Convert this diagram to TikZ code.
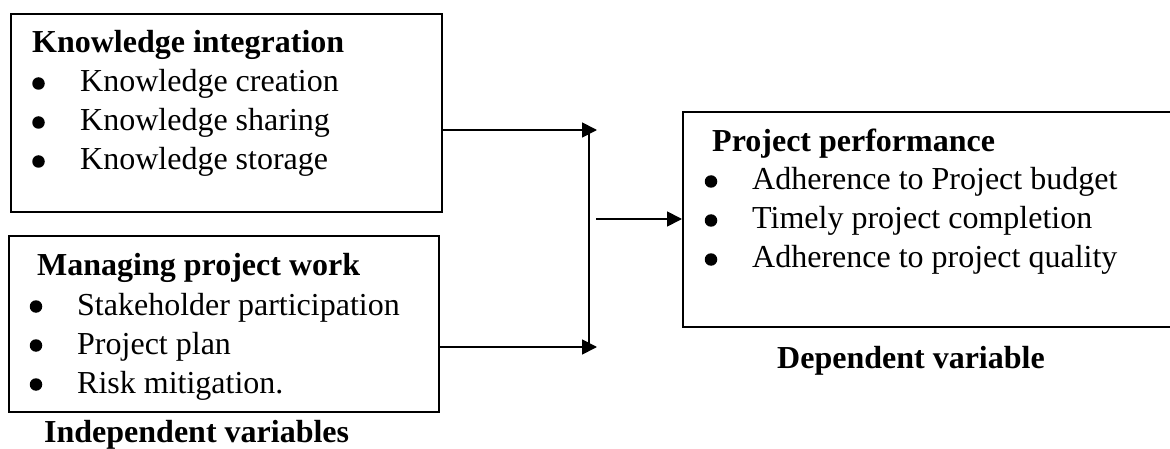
\documentclass[tikz,border=0pt]{standalone}
\usepackage{fontspec}
\setmainfont{Liberation Serif}
\usetikzlibrary{arrows.meta}
\begin{document}
\begin{tikzpicture}[x=1pt,y=-1pt,
  box/.style={draw,line width=1.7pt,inner sep=0pt},
  txt/.style={anchor=base west,inner sep=0pt,font=\fontsize{32}{39}\selectfont},
  ttl/.style={txt,font=\fontsize{32}{39}\selectfont\bfseries},
  bul/.style={circle,fill=black,inner sep=0pt,minimum size=12.5pt},
  conn/.style={line width=1.7pt},
  arr/.style={conn,-{Triangle[length=15pt,width=15pt]}}]
\useasboundingbox (0,0) rectangle (1170,449);
% boxes
\node[box,minimum width=431pt,minimum height=198pt,anchor=north west] (b1) at (10,13) {};
\node[box,minimum width=430pt,minimum height=176pt,anchor=north west] (b2) at (8,235) {};
\node[box,minimum width=500pt,minimum height=215pt,anchor=north west] (b3) at (682,111) {};
% box 1 text
\node[ttl] (t1) at (32,53) {Knowledge integration};
\node[bul] (b1a) at (38.5,83.5) {};
\node[txt] (i1a) at (80,92) {Knowledge creation};
\node[bul] (b1b) at (38.5,122.5) {};
\node[txt] (i1b) at (80,131) {Knowledge sharing};
\node[bul] (b1c) at (38.5,161.5) {};
\node[txt] (i1c) at (80,170) {Knowledge storage};
% box 2 text
\node[ttl] (t2) at (37,275) {Managing project work};
\node[bul] (b2a) at (36,306.5) {};
\node[txt] (i2a) at (77,315) {Stakeholder participation};
\node[bul] (b2b) at (36,345.5) {};
\node[txt] (i2b) at (77,354) {Project plan};
\node[bul] (b2c) at (36,384.5) {};
\node[txt] (i2c) at (77,393) {Risk mitigation.};
% box 3 text
\node[ttl] (t3) at (712,152) {Project performance};
\node[bul] (b3a) at (711,181.5) {};
\node[txt] (i3a) at (752,190) {Adherence to Project budget};
\node[bul] (b3b) at (711,220.5) {};
\node[txt] (i3b) at (752,229) {Timely project completion};
\node[bul] (b3c) at (711,259.5) {};
\node[txt] (i3c) at (752,268) {Adherence to project quality};
% captions
\node[ttl] (ind) at (44,442) {Independent variables};
\node[ttl] (dep) at (777,368) {Dependent variable};
% connectors
\coordinate (j1) at (597,130);
\coordinate (j2) at (597,347);
\coordinate (v1) at (589,131);
\coordinate (v2) at (589,347);
\coordinate (m) at (596,219);
\draw[arr] (b1.east |- j1) -- (j1);
\draw[arr] (b2.east |- j2) -- (j2);
\draw[conn] (v1) -- (v2);
\draw[arr] (m) -- (b3.west |- m);
\end{tikzpicture}
\end{document}
